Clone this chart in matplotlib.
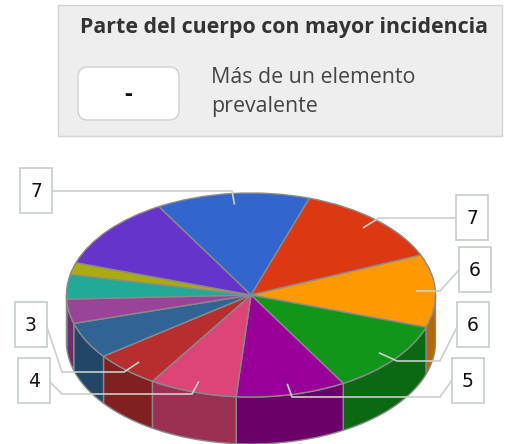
import numpy as np
import matplotlib
matplotlib.use("Agg")
import matplotlib.pyplot as plt
from matplotlib.patches import Polygon, Rectangle, FancyBboxPatch
from matplotlib.colors import to_rgb

# data, in drawing order (clockwise from the start angle)
values = [7, 7, 6, 6, 5, 4, 3, 3, 2, 2, 1, 6]
colors = ["#3366cc", "#dc3912", "#ff9900", "#109618", "#990099", "#dd4477",
          "#b82e2e", "#316395", "#994499", "#22aa99", "#aaaa11", "#6633cc"]
shown = [True, True, True, True, True, True, True,
         False, False, False, False, False]

card_title = "Parte del cuerpo con mayor incidencia"
card_value = "-"
card_text = "Más de un elemento\nprevalente"

W, H = 509, 444
cx, cy = 251, 295        # pie centre (px)
rx, ry = 184.5, 102      # ellipse radii (px)
depth = 47 / ry          # wall height in pie units
start = 330              # first slice starts at this angle (clockwise from top)
edge = "#8a8a8a"
lead = "#c9d0c9"

fig = plt.figure(figsize=(W / 100, H / 100), dpi=100)

# pie axes: 1 unit = rx px horizontally, ry px vertically
pax = fig.add_axes([0, 0, 1, 1])
wedges, _ = pax.pie(values, colors=colors, startangle=90 - start, counterclock=False,
                    radius=1, wedgeprops=dict(edgecolor=edge, linewidth=1))
for w in wedges:
    w.set_zorder(3)
pax.set_aspect("auto")
pax.set_xlim(-cx / rx, (W - cx) / rx)
pax.set_ylim(-(H - cy) / ry, cy / ry)
pax.axis("off")

# side walls of the visible (front) part of the cylinder
bounds = start + 360 * np.concatenate([[0], np.cumsum(values)]) / sum(values)
for i, c in enumerate(colors):
    a, b = bounds[i], bounds[i + 1]
    for off in (0, 360):
        lo, hi = max(a, 90 + off), min(b, 270 + off)
        if hi <= lo:
            continue
        t = np.radians(np.linspace(lo, hi, 40))
        xs, ys = np.sin(t), np.cos(t)
        pts = np.column_stack([np.r_[xs, xs[::-1]], np.r_[ys, ys[::-1] - depth]])
        dark = tuple(0.7 * v for v in to_rgb(c))
        pax.add_patch(Polygon(pts, closed=True, facecolor=dark, edgecolor=edge,
                              linewidth=1, zorder=1))

# overlay axes in pixel coords
ax = fig.add_axes([0, 0, 1, 1], zorder=5)
ax.set_xlim(0, W)
ax.set_ylim(H, 0)
ax.axis("off")
ax.patch.set_alpha(0)

# info card
ax.add_patch(Rectangle((58, 5), 444, 131, facecolor="#eeeeee", edgecolor="#d4d4d4", lw=1))
ax.text(284, 27, card_title, ha="center", va="center", fontsize=15.4,
        fontweight="bold", family="Open Sans", color="#333333")
ax.add_patch(FancyBboxPatch((78, 67), 101, 53, boxstyle="round,pad=0,rounding_size=10",
                            facecolor="white", edgecolor="#d0d0d0", lw=1))
ax.text(128, 95, card_value, ha="center", va="center", fontsize=17,
        fontweight="bold", family="Open Sans", color="#111111")
ax.text(211, 92, card_text, ha="left", va="center", fontsize=15.4,
        family="Open Sans", color="#444444", linespacing=1.55)

# labelled boxes: (box x, box y, elbow points from box side toward the slice)
boxes = [
    (20, 168, [(52, 191), (232, 191)]),
    (456, 195, [(456, 218), (379, 218)]),
    (459, 247, [(459, 270), (440, 291), (417, 291)]),
    (457, 302, [(457, 327), (440, 361), (397, 361)]),
    (452, 358, [(452, 380), (440, 397), (292, 397)]),
    (18, 358, [(50, 382), (62, 394), (192, 394)]),
    (15, 302, [(47, 327), (62, 372), (124, 372)]),
]
k = 0
for i, v in enumerate(values):
    if not shown[i]:
        continue
    bx, by, path = boxes[k]
    k += 1
    mid = np.radians((bounds[i] + bounds[i + 1]) / 2)
    anchor = (cx + 0.9 * rx * np.sin(mid), cy - 0.9 * ry * np.cos(mid))
    pts = path + [anchor]
    ax.plot([p[0] for p in pts], [p[1] for p in pts], color=lead, lw=1.2,
            solid_joinstyle="miter")
    ax.add_patch(Rectangle((bx, by), 32, 45, facecolor="white", edgecolor=lead, lw=1.3))
    ax.text(bx + 16, by + 23, str(v), ha="center", va="center", fontsize=13.5,
            color="#111111")

fig.savefig("out.png", dpi=100)
